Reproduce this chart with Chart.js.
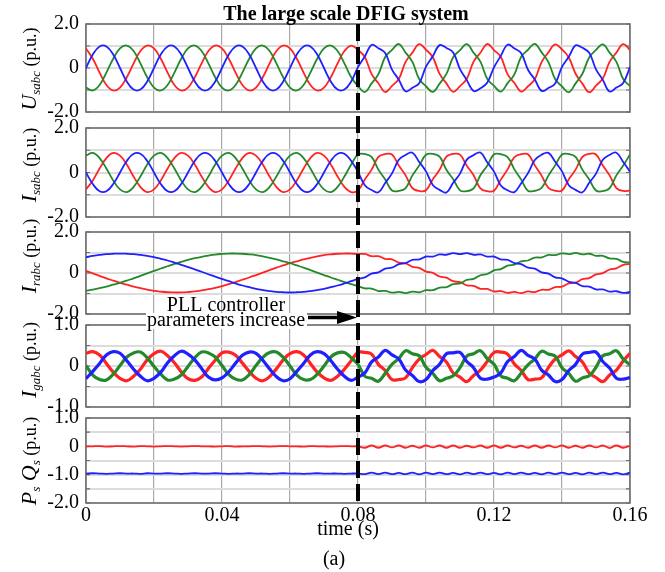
<!DOCTYPE html>
<html>
<head>
<meta charset="utf-8">
<script src="https://cdn.jsdelivr.net/npm/chart.js@4.4.0/dist/chart.umd.min.js"></script>
<style>
  body { margin: 0; background: #fff; }
  #wrap { position: relative; width: 665px; height: 572px; }
  canvas { position: absolute; left: 0; top: 0; }
</style>
</head>
<body>
<div id="wrap">
  <canvas id="p1" width="665" height="572"></canvas>
  <canvas id="p2" width="665" height="572"></canvas>
  <canvas id="p3" width="665" height="572"></canvas>
  <canvas id="p4" width="665" height="572"></canvas>
  <canvas id="p5" width="665" height="572"></canvas>
</div>
<script>
// sample times in ms (2 ms step)
const timeMs = [0, 2, 4, 6, 8, 10, 12, 14, 16, 18, 20, 22, 24, 26, 28, 30, 32, 34, 36, 38,
  40, 42, 44, 46, 48, 50, 52, 54, 56, 58, 60, 62, 64, 66, 68, 70, 72, 74, 76, 78,
  80, 82, 84, 86, 88, 90, 92, 94, 96, 98, 100, 102, 104, 106, 108, 110, 112, 114, 116, 118,
  120, 122, 124, 126, 128, 130, 132, 134, 136, 138, 140, 142, 144, 146, 148, 150, 152, 154, 156, 158, 160];

const xTickValues = [0, 0.02, 0.04, 0.06, 0.08, 0.1, 0.12, 0.14, 0.16];
const xTickText = ['0', '', '0.04', '', '0.08', '', '0.12', '', '0.16'];

// stator voltage U_sabc
const usBlue = [
  0, .61, .98, .98, .61, 0, -.61, -.98, -.98, -.61,
  0, .61, .98, .98, .61, 0, -.61, -.98, -.98, -.61,
  0, .61, .98, .98, .61, 0, -.61, -.98, -.98, -.61,
  0, .61, .98, .98, .61, 0, -.61, -.98, -.98, -.61,
  .04, .52, 1.05, .90, .68, -.07, -.53, -1.06, -.90, -.69,
  .06, .53, 1.04, .91, .70, -.05, -.55, -1.05, -.92, -.67,
  .03, .55, 1.06, .89, .67, -.08, -.52, -1.04, -.91, -.70,
  .05, .51, 1.03, .92, .69, -.06, -.54, -1.07, -.89, -.68,
  .04];
const usRed = [
  .89, .42, -.21, -.77, -1.02, -.89, -.42, .21, .77, 1.02,
  .89, .42, -.21, -.77, -1.02, -.89, -.42, .21, .77, 1.02,
  .89, .42, -.21, -.77, -1.02, -.89, -.42, .21, .77, 1.02,
  .89, .42, -.21, -.77, -1.02, -.89, -.42, .21, .77, 1.02,
  .82, .50, -.28, -.69, -1.09, -.81, -.50, .28, .70, 1.08,
  .83, .49, -.27, -.70, -1.08, -.82, -.49, .29, .69, 1.09,
  .81, .51, -.29, -.68, -1.07, -.83, -.51, .27, .71, 1.07,
  .84, .48, -.26, -.71, -1.10, -.80, -.48, .28, .70, 1.08,
  .82];
const usGreen = [
  -.89, -1.02, -.77, -.21, .42, .89, 1.02, .77, .21, -.42,
  -.89, -1.02, -.77, -.21, .42, .89, 1.02, .77, .21, -.42,
  -.89, -1.02, -.77, -.21, .42, .89, 1.02, .77, .21, -.42,
  -.89, -1.02, -.77, -.21, .42, .89, 1.02, .77, .21, -.42,
  -.82, -1.09, -.70, -.28, .50, .82, 1.09, .70, .28, -.50,
  -.83, -1.08, -.71, -.27, .49, .81, 1.08, .69, .29, -.49,
  -.81, -1.07, -.69, -.29, .51, .83, 1.10, .71, .27, -.51,
  -.84, -1.10, -.70, -.26, .48, .82, 1.07, .70, .28, -.50,
  -.82];

// stator current I_sabc
const isBlue = [
  0, -.52, -.84, -.84, -.52, 0, .52, .84, .84, .52,
  0, -.52, -.84, -.84, -.52, 0, .52, .84, .84, .52,
  0, -.52, -.84, -.84, -.52, 0, .52, .84, .84, .52,
  0, -.52, -.84, -.84, -.52, 0, .52, .84, .84, .52,
  .03, -.57, -.79, -.89, -.47, -.04, .57, .79, .89, .47,
  .05, -.56, -.78, -.90, -.46, -.05, .58, .78, .90, .46,
  .04, -.58, -.80, -.88, -.48, -.03, .56, .80, .88, .48,
  .05, -.57, -.78, -.89, -.46, -.05, .57, .79, .89, .47,
  .04];
const isRed = [
  -.76, -.36, .18, .65, .88, .76, .36, -.18, -.65, -.88,
  -.76, -.36, .18, .65, .88, .76, .36, -.18, -.65, -.88,
  -.76, -.36, .18, .65, .88, .76, .36, -.18, -.65, -.88,
  -.76, -.36, .18, .65, .88, .76, .36, -.18, -.65, -.88,
  -.81, -.31, .13, .70, .83, .81, .31, -.13, -.70, -.83,
  -.80, -.30, .12, .71, .84, .80, .30, -.12, -.71, -.84,
  -.82, -.32, .14, .69, .82, .82, .32, -.14, -.69, -.82,
  -.81, -.30, .13, .70, .84, .81, .31, -.13, -.70, -.83,
  -.81];
const isGreen = [
  .76, .88, .65, .18, -.36, -.76, -.88, -.65, -.18, .36,
  .76, .88, .65, .18, -.36, -.76, -.88, -.65, -.18, .36,
  .76, .88, .65, .18, -.36, -.76, -.88, -.65, -.18, .36,
  .76, .88, .65, .18, -.36, -.76, -.88, -.65, -.18, .36,
  .81, .83, .70, .13, -.31, -.81, -.83, -.70, -.13, .31,
  .80, .84, .71, .12, -.30, -.80, -.84, -.71, -.12, .30,
  .82, .82, .69, .14, -.32, -.82, -.82, -.69, -.14, .32,
  .81, .83, .70, .13, -.31, -.81, -.84, -.70, -.13, .31,
  .81];

// rotor current I_rabc
const irBlue = [
  .77, .83, .88, .92, .94, .95, .94, .92, .88, .83,
  .77, .69, .61, .51, .40, .29, .18, .06, -.06, -.18,
  -.29, -.40, -.51, -.61, -.69, -.77, -.83, -.88, -.92, -.94,
  -.95, -.94, -.92, -.88, -.83, -.77, -.69, -.61, -.51, -.40,
  -.29,
  -.21, -.03, .03, .21, .26, .43, .48, .64, .66, .80,
  .80, .91, .89, .97, .92, .97, .89, .91, .80, .80,
  .66, .64, .48, .43, .26, .21, .03, -.03, -.21, -.26,
  -.43, -.48, -.64, -.66, -.80, -.80, -.91, -.89, -.97, -.92];
const irRed = [
  .10, -.02, -.14, -.26, -.37, -.48, -.57, -.66, -.74, -.81,
  -.87, -.91, -.94, -.95, -.95, -.93, -.90, -.85, -.79, -.72,
  -.64, -.54, -.44, -.33, -.22, -.10, .02, .14, .26, .37,
  .48, .57, .66, .74, .81, .87, .91, .94, .95, .95,
  .93,
  .93, .82, .82, .69, .67, .51, .47, .30, .25, .07,
  .01, -.17, -.23, -.40, -.45, -.60, -.63, -.77, -.78, -.90,
  -.88, -.97, -.92, -.98, -.90, -.93, -.82, -.82, -.69, -.67,
  -.51, -.47, -.30, -.25, -.07, -.01, .17, .23, .40, .45];
const irGreen = [
  -.87, -.81, -.74, -.66, -.57, -.48, -.37, -.26, -.14, -.02,
  .10, .22, .33, .44, .54, .64, .72, .79, .85, .90,
  .93, .95, .95, .94, .91, .87, .81, .74, .66, .57,
  .48, .37, .26, .14, .02, -.10, -.22, -.33, -.44, -.54,
  -.64,
  -.75, -.76, -.88, -.87, -.96, -.92, -.98, -.91, -.94, -.84,
  -.84, -.71, -.69, -.54, -.51, -.34, -.29, -.11, -.05, .13,
  .19, .36, .41, .57, .61, .75, .76, .88, .87, .96,
  .92, .98, .91, .94, .84, .84, .71, .69, .54, .51];

// grid-side current I_gabc
const igRed = [
  .31, .35, .27, .06, -.15, -.30, -.36, -.25, -.08, .15,
  .30, .36, .25, .08, -.14, -.31, -.35, -.27, -.06, .14,
  .32, .34, .26, .07, -.13, -.30, -.36, -.26, -.07, .15,
  .30, .35, .27, .06, -.15, -.29, -.35, -.25, -.08, .13,
  .33, .33, .29, .04, -.11, -.33, -.33, -.29, -.04, .17,
  .28, .38, .23, .10, -.17, -.27, -.38, -.23, -.10, .11,
  .33, .34, .29, .05, -.11, -.33, -.32, -.29, -.04, .17,
  .27, .37, .23, .10, -.17, -.28, -.38, -.22, -.10, .12,
  .31];
const igBlue = [
  -.31, -.13, .06, .27, .35, .31, .13, -.08, -.25, -.36,
  -.30, -.15, .08, .25, .36, .29, .15, -.06, -.27, -.34,
  -.29, -.14, .07, .26, .34, .31, .14, -.07, -.26, -.36,
  -.31, -.13, .06, .27, .35, .30, .13, -.08, -.25, -.35,
  -.27, -.17, .10, .22, .38, .27, .17, -.10, -.23, -.38,
  -.33, -.11, .04, .30, .32, .33, .11, -.04, -.30, -.32,
  -.27, -.17, .11, .23, .38, .26, .17, -.10, -.22, -.38,
  -.33, -.11, .04, .29, .33, .34, .11, -.05, -.30, -.32,
  -.28];
const igGreen = [
  .01, -.22, -.33, -.34, -.20, .01, .22, .32, .34, .20,
  -.01, -.20, -.34, -.32, -.22, -.01, .20, .34, .32, .22,
  .01, -.21, -.32, -.34, -.21, .01, .21, .33, .34, .21,
  0, -.22, -.33, -.33, -.20, 0, .22, .32, .33, .20,
  .04, -.25, -.30, -.37, -.18, .04, .18, .37, .30, .25,
  -.03, -.18, -.36, -.30, -.24, -.04, .24, .30, .37, .18,
  .04, -.24, -.30, -.36, -.17, .03, .17, .36, .29, .24,
  -.04, -.18, -.37, -.29, -.24, -.03, .25, .30, .37, .17,
  .03];

// stator power P_s, Q_s
const qsRed = [
  -.01, 0, .01, -.01, 0, .01, 0, -.01, .01, 0,
  -.01, 0, .01, 0, -.01, 0, .01, 0, 0, -.01,
  0, .01, -.01, 0, 0, .01, 0, -.01, 0, .01,
  0, 0, -.01, .01, 0, 0, -.01, 0, .01, 0,
  0,
  -.05, .03, -.05, .03, -.04, .03, -.05, .02, -.05, .03,
  -.04, .03, -.05, .03, -.05, .02, -.04, .03, -.05, .03,
  -.05, .03, -.04, .02, -.05, .03, -.05, .03, -.04, .03,
  -.05, .02, -.05, .03, -.04, .03, -.06, .03, -.05, .02];
const psBlue = [
  -.96, -.95, -.96, -.97, -.96, -.95, -.96, -.96, -.97, -.95,
  -.96, -.96, -.95, -.96, -.97, -.96, -.95, -.96, -.96, -.95,
  -.96, -.97, -.96, -.96, -.95, -.96, -.96, -.97, -.96, -.95,
  -.96, -.96, -.97, -.96, -.95, -.96, -.96, -.96, -.97, -.96,
  -.96,
  -.98, -.93, -.98, -.93, -.98, -.94, -.98, -.93, -.99, -.93,
  -.98, -.93, -.98, -.94, -.99, -.93, -.98, -.93, -.98, -.94,
  -.99, -.93, -.98, -.93, -.98, -.94, -.99, -.93, -.98, -.93,
  -.98, -.94, -.99, -.93, -.98, -.93, -.98, -.94, -.99, -.93];

const RED = '#ff2424';
const BLUE = '#2020ff';
const GREEN = '#23892a';
const SERIF = '"Liberation Serif", "Times New Roman", serif';

Chart.defaults.font.family = SERIF;
Chart.defaults.font.size = 20;
Chart.defaults.color = '#000';

function pts(vals) {
  return vals.map((v, i) => ({ x: timeMs[i] / 1000, y: v }));
}

function line(vals, color, w) {
  return { data: pts(vals), borderColor: color, borderWidth: w || 1.8, pointRadius: 0, tension: 0.4, fill: false };
}

// frame round the plot area plus small inner ticks
const framePlugin = {
  id: 'frame',
  beforeDatasetsDraw(chart) {
    const a = chart.chartArea, c = chart.ctx, ys = chart.scales.y;
    c.save();
    c.strokeStyle = '#6a6a6a';
    c.lineWidth = 1.5;
    c.strokeRect(a.left, a.top, a.right - a.left, a.bottom - a.top);
    c.lineWidth = 1.2;
    ys.ticks.forEach(t => {
      const y = ys.getPixelForValue(t.value);
      c.beginPath();
      c.moveTo(a.left, y); c.lineTo(a.left + 4, y);
      c.moveTo(a.right, y); c.lineTo(a.right - 4, y);
      c.stroke();
    });
    c.restore();
  }
};

// rotated y title with italic symbol and subscript
function titlePlugin(parts, cy) {
  return {
    id: 'ytitle',
    afterDraw(chart) {
      const c = chart.ctx;
      c.save();
      c.translate(36, cy);
      c.rotate(-Math.PI / 2);
      c.fillStyle = '#000';
      c.textBaseline = 'alphabetic';
      let w = 0;
      parts.forEach(p => { c.font = p.f + ' ' + SERIF; w += c.measureText(p.t).width; });
      let x = -w / 2;
      parts.forEach(p => {
        c.font = p.f + ' ' + SERIF;
        c.fillText(p.t, x, p.dy || 0);
        x += c.measureText(p.t).width;
      });
      c.restore();
    }
  };
}

function makePanel(id, top, bottom, yMin, yMax, yTicks, yText, datasets, parts, cy, showX, extra) {
  const plugins = [framePlugin, titlePlugin(parts, cy)];
  if (extra) plugins.push(extra);
  const xh = showX ? 30 : 0;
  return new Chart(document.getElementById(id), {
    type: 'line',
    data: { datasets: datasets },
    options: {
      responsive: false,
      animation: false,
      events: [],
      layout: { padding: { left: 0, right: 35, top: top, bottom: 572 - bottom - xh } },
      plugins: { legend: { display: false }, tooltip: { enabled: false } },
      scales: {
        x: {
          type: 'linear', min: 0, max: 0.16,
          afterBuildTicks: s => { s.ticks = xTickValues.map(v => ({ value: v })); },
          afterFit: s => { s.height = xh; s.paddingLeft = 0; s.paddingRight = 0; },
          ticks: { display: showX, padding: 1, maxRotation: 0, autoSkip: false,
                   callback: (v, i) => xTickText[i] },
          grid: { color: '#a9a9a9', lineWidth: 1.2, drawTicks: false },
          border: { display: false }
        },
        y: {
          min: yMin, max: yMax,
          afterBuildTicks: s => { s.ticks = yTicks.map(v => ({ value: v })); },
          afterFit: s => { s.width = 86; s.paddingTop = 0; s.paddingBottom = 0; },
          ticks: { padding: 7, autoSkip: false, callback: (v, i) => yText[i] },
          grid: { color: '#dcdcdc', lineWidth: 2, drawTicks: false },
          border: { display: false }
        }
      }
    },
    plugins: plugins
  });
}

const sub = (t) => ({ t: t, f: 'italic 13px', dy: 4 });

makePanel('p1', 24, 112, -2, 2, [-2, -1, 0, 1, 2], ['-2.0', '', '0', '', '2.0'],
  [line(usBlue, BLUE), line(usGreen, GREEN), line(usRed, RED)],
  [{ t: 'U', f: 'italic 22px' }, sub('sabc'), { t: ' (p.u.)', f: '18px' }], 69, false);

makePanel('p2', 128, 217, -2, 2, [-2, -1, 0, 1, 2], ['-2.0', '', '0', '', '2.0'],
  [line(isBlue, BLUE), line(isGreen, GREEN), line(isRed, RED)],
  [{ t: 'I', f: 'italic 22px' }, sub('sabc'), { t: ' (p.u.)', f: '18px' }], 165, false);

makePanel('p3', 232, 314, -2, 2, [-2, -1, 0, 1, 2], ['-2.0', '', '0', '', '2.0'],
  [line(irBlue, BLUE), line(irGreen, GREEN), line(irRed, RED)],
  [{ t: 'I', f: 'italic 22px' }, sub('rabc'), { t: ' (p.u.)', f: '18px' }], 256, false);

makePanel('p4', 325, 407, -1, 1, [-1, -0.5, 0, 0.5, 1], ['-1.0', '', '0', '', '1.0'],
  [line(igBlue, BLUE, 3.2), line(igGreen, GREEN, 3.2), line(igRed, RED, 3.2)],
  [{ t: 'I', f: 'italic 22px' }, sub('gabc'), { t: ' (p.u.)', f: '18px' }], 360, false);

// annotations drawn on the top canvas
const notes = {
  id: 'notes',
  afterDraw(chart) {
    const c = chart.ctx;
    const xs = chart.scales.x;
    const xd = xs.getPixelForValue(0.08);
    c.save();
    c.fillStyle = '#000';
    c.textAlign = 'center';
    c.textBaseline = 'alphabetic';
    c.font = 'bold 20px ' + SERIF;
    c.fillText('The large scale DFIG system', 346, 20);

    // PLL note
    c.font = '20px ' + SERIF;
    c.fillStyle = '#fff';
    c.fillRect(146, 313, 161, 16);
    c.fillStyle = '#000';
    c.fillText('PLL controller', 226, 311);
    c.fillText('parameters increase', 226, 326);

    // arrow
    c.strokeStyle = '#000';
    c.lineWidth = 3.5;
    c.beginPath();
    c.moveTo(308, 317.5); c.lineTo(340, 317.5);
    c.stroke();
    c.beginPath();
    c.moveTo(337, 311); c.lineTo(357, 317.5); c.lineTo(337, 324);
    c.closePath();
    c.fill();

    // dashed switching line
    c.lineWidth = 4;
    c.setLineDash([17, 6]);
    c.beginPath();
    c.moveTo(xd, 24); c.lineTo(xd, 503);
    c.stroke();
    c.setLineDash([]);

    c.font = '20px ' + SERIF;
    c.fillText('time (s)', 348, 535);
    c.fillText('(a)', 334, 565);
    c.restore();
  }
};

makePanel('p5', 418, 503, -2, 1, [-2, -1.5, -1, -0.5, 0, 0.5, 1], ['-2.0', '', '-1.0', '', '0', '', '1.0'],
  [line(psBlue, BLUE), line(qsRed, RED)],
  [{ t: 'P', f: 'italic 22px' }, sub('s'), { t: ' Q', f: 'italic 22px' }, sub('s'), { t: ' (p.u.)', f: '18px' }],
  461, true, notes);
</script>
</body>
</html>
